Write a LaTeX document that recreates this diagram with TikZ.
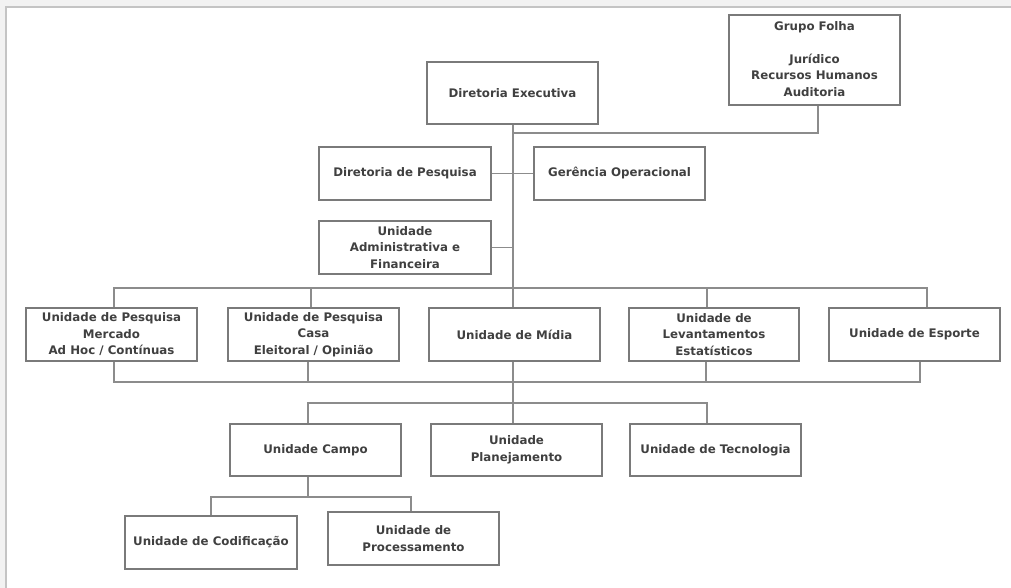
\documentclass[tikz,border=0pt]{standalone}
\usepackage{fontspec}
\setmainfont{DejaVu Sans}
\newfontfamily\boxfont{DejaVu Sans}
\definecolor{txt}{HTML}{404040}
\definecolor{boxline}{HTML}{7A7A7A}
\definecolor{conn}{HTML}{8C8C8C}
\definecolor{frameline}{HTML}{C4C4C4}
\definecolor{framebg}{HTML}{F2F2F2}
\begin{document}
\begin{tikzpicture}[x=1pt,y=-1pt,
  box/.style={draw=boxline,line width=1.3pt,fill=white,text=txt,align=center,inner sep=0pt,font=\fontsize{11.8}{16.5}\selectfont\bfseries\boxfont},
  link/.style={draw=conn,line width=1.2pt}]
\useasboundingbox (0,0) rectangle (1011,588);
\fill[framebg] (0,0) rectangle (1011,588);
\fill[white] (6,7) rectangle (1011,588);
\draw[frameline,line width=1.5pt] (6,588) -- (6,7) -- (1011,7);
% nodes
\node[box,minimum width=171pt,minimum height=62pt] (de) at (512.5,93) {Diretoria Executiva};
\node[box,minimum width=171pt,minimum height=90pt] (gf) at (814.5,60) {\raisebox{3pt}{\begin{tabular}{@{}c@{}}Grupo Folha\\[16pt]Jurídico\\Recursos Humanos\\Auditoria\end{tabular}}};
\node[box,minimum width=172pt,minimum height=53pt] (dp) at (405,173.5) {Diretoria de Pesquisa};
\node[box,minimum width=171pt,minimum height=53pt] (go) at (619.5,173.5) {Gerência Operacional};
\node[box,minimum width=172pt,minimum height=53pt] (uaf) at (405,247.5) {Unidade\\Administrativa e\\Financeira};
\node[box,minimum width=171pt,minimum height=53pt] (upm) at (111.5,334.5) {Unidade de Pesquisa\\Mercado\\Ad Hoc / Contínuas};
\node[box,minimum width=171pt,minimum height=53pt] (upc) at (313.5,334.5) {Unidade de Pesquisa\\Casa\\Eleitoral / Opinião};
\node[box,minimum width=171pt,minimum height=53pt] (um) at (514.5,334.5) {Unidade de Mídia};
\node[box,minimum width=170pt,minimum height=53pt] (ule) at (714,334.5) {Unidade de\\Levantamentos\\Estatísticos};
\node[box,minimum width=171pt,minimum height=53pt] (ue) at (914.5,334.5) {Unidade de Esporte};
\node[box,minimum width=171pt,minimum height=52pt] (uc) at (315.5,450) {Unidade Campo};
\node[box,minimum width=171pt,minimum height=52pt] (upl) at (516.5,450) {Unidade\\Planejamento};
\node[box,minimum width=171pt,minimum height=52pt] (ut) at (715.5,450) {Unidade de Tecnologia};
\node[box,minimum width=172pt,minimum height=53pt] (ucod) at (211,542.5) {Unidade de Codificação};
\node[box,minimum width=171pt,minimum height=53pt] (upr) at (413.5,538.5) {Unidade de\\Processamento};
% bus coordinates
\coordinate (j0) at (513,133);
\coordinate (j1) at (513,288);
\coordinate (j2) at (513,382);
\coordinate (j3) at (513,403);
\coordinate (j4) at (308,497);
% connectors
\draw[link] ([xshift=0.5pt]de.south) |- (j0) -| ([xshift=3.5pt]gf.south);
\draw[link] (j0) -- (j1);
\draw[link] (dp.east) -- (go.west);
\draw[link] (uaf.east) -- (uaf.east -| j0);
\draw[link] ([xshift=2.5pt]upm.north) |- (j1) -| ([xshift=12.5pt]ue.north);
\draw[link] ([xshift=-2.5pt]upc.north) -- ([xshift=-2.5pt]upc.north |- j1);
\draw[link] ([xshift=-1.5pt]um.north) -- ([xshift=-1.5pt]um.north |- j1);
\draw[link] ([xshift=-7pt]ule.north) -- ([xshift=-7pt]ule.north |- j1);
\draw[link] ([xshift=2.5pt]upm.south) |- (j2) -| ([xshift=5.5pt]ue.south);
\draw[link] ([xshift=-5.5pt]upc.south) -- ([xshift=-5.5pt]upc.south |- j2);
\draw[link] ([xshift=-1.5pt]um.south) -- (j3);
\draw[link] ([xshift=-8pt]ule.south) -- ([xshift=-8pt]ule.south |- j2);
\draw[link] ([xshift=-7.5pt]uc.north) |- (j3) -| ([xshift=-8.5pt]ut.north);
\draw[link] ([xshift=-3.5pt]upl.north) -- ([xshift=-3.5pt]upl.north |- j3);
\draw[link] ([xshift=-7.5pt]uc.south) -- (j4);
\draw[link] (ucod.north) |- (j4) -| ([xshift=-2.5pt]upr.north);
\end{tikzpicture}
\end{document}
